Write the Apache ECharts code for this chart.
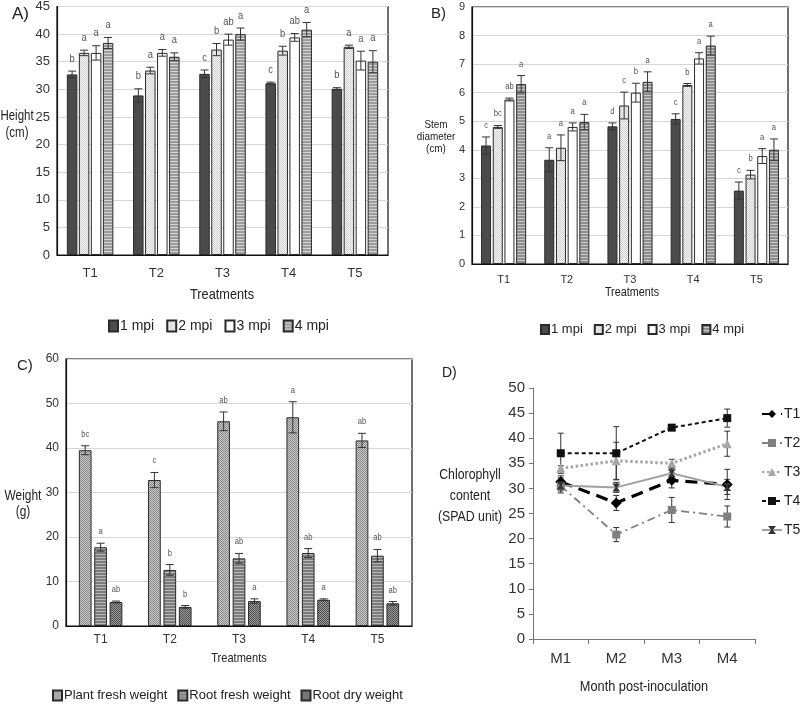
<!DOCTYPE html>
<html><head><meta charset="utf-8">
<script src="https://cdn.jsdelivr.net/npm/echarts@6/dist/echarts.min.js"></script>
<style>html,body{margin:0;padding:0;background:#fff}#c{width:800px;height:706px}</style>
</head><body><div id="c"></div>
<script>
// ---------- DATA ----------
const treatments = ['T1','T2','T3','T4','T5'];
const mpiNames = ['1 mpi','2 mpi','3 mpi','4 mpi'];

// Panel A: Height (cm)
const height1mpi = [32.7, 28.9, 32.8, 31.1, 30.1];
const height2mpi = [36.6, 33.4, 37.2, 37.0, 37.7];
const height3mpi = [36.6, 36.6, 39.0, 39.4, 35.2];
const height4mpi = [38.4, 35.9, 40.0, 40.8, 35.0];
const height1mpiErr = [0.6, 1.2, 0.7, 0.2, 0.2];
const height2mpiErr = [0.5, 0.6, 1.1, 0.8, 0.3];
const height3mpiErr = [1.3, 0.6, 1.0, 0.7, 1.7];
const height4mpiErr = [1.0, 0.7, 1.1, 1.3, 2.0];
const height1mpiLet = ['b','b','c','c','b'];
const height2mpiLet = ['a','a','b','b','a'];
const height3mpiLet = ['a','a','ab','ab','a'];
const height4mpiLet = ['a','a','a','a','a'];

// Panel B: Stem diameter (cm)
const stem1mpi = [4.15, 3.65, 4.82, 5.08, 2.57];
const stem2mpi = [4.80, 4.07, 5.55, 6.27, 3.13];
const stem3mpi = [5.76, 4.80, 6.00, 7.20, 3.78];
const stem4mpi = [6.30, 4.97, 6.38, 7.65, 4.00];
const stem1mpiErr = [0.30, 0.42, 0.12, 0.18, 0.30];
const stem2mpiErr = [0.05, 0.45, 0.47, 0.05, 0.15];
const stem3mpiErr = [0.05, 0.14, 0.33, 0.20, 0.26];
const stem4mpiErr = [0.30, 0.27, 0.35, 0.33, 0.38];
const stem1mpiLet = ['c','a','d','c','c'];
const stem2mpiLet = ['bc','a','c','b','b'];
const stem3mpiLet = ['ab','a','b','a','a'];
const stem4mpiLet = ['a','a','a','a','a'];

// Panel C: Weight (g)
const weightNames = ['Plant fresh weight','Root fresh weight','Root dry weight'];
const plantFresh = [39.5, 32.8, 46.0, 46.9, 41.7];
const rootFresh = [17.7, 12.6, 15.2, 16.4, 15.8];
const rootDry = [5.4, 4.3, 5.6, 5.9, 5.1];
const plantFreshErr = [1.0, 1.7, 2.1, 3.5, 1.6];
const rootFreshErr = [0.9, 1.2, 1.1, 1.0, 1.4];
const rootDryErr = [0.2, 0.3, 0.5, 0.2, 0.4];
const plantFreshLet = ['bc','c','ab','a','ab'];
const rootFreshLet = ['a','b','ab','ab','ab'];
const rootDryLet = ['ab','b','a','a','ab'];

// Panel D: Chlorophyll content (SPAD unit)
const months = ['M1','M2','M3','M4'];
const chlNames = ['T1','T2','T3','T4','T5'];
const chlT1 = [31.3, 27.1, 31.6, 30.8];
const chlT2 = [30.5, 20.8, 25.7, 24.4];
const chlT3 = [34.0, 35.5, 35.0, 38.9];
const chlT4 = [37.0, 37.0, 42.1, 44.0];
const chlT5 = [30.6, 30.2, 33.0, 30.3];
const chlT1Err = [1.2, 1.5, 1.5, 3.0];
const chlT2Err = [1.0, 1.4, 2.5, 2.1];
const chlT3Err = [0.5, 3.7, 0.8, 2.5];
const chlT4Err = [4.0, 5.3, 0.5, 1.8];
const chlT5Err = [1.5, 1.0, 1.0, 1.5];

// ---------- STYLE HELPERS ----------
const FONT = "'Liberation Sans',Arial,sans-serif";
function pat(w, h, draw) {
  const c = document.createElement('canvas'); c.width = w; c.height = h;
  const g = c.getContext('2d'); draw(g, w, h);
  return { image: c, repeat: 'repeat' };
}
function rows(colors) {
  return pat(4, colors.length, (g) => { colors.forEach((col, i) => { g.fillStyle = col; g.fillRect(0, i, 4, 1); }); });
}
function checker(a, b) {
  return pat(2, 2, (g) => { g.fillStyle = a; g.fillRect(0,0,2,2); g.fillStyle = b; g.fillRect(0,0,1,1); g.fillRect(1,1,1,1); });
}
const fill1 = '#4b4b4b';
const fill2 = checker('#f4f4f4', '#d2d2d2');
const fill3 = '#ffffff';
const fill4 = rows(['#9c9c9c', '#9c9c9c', '#d4d4d4']);
const fill4b = rows(['#8f8f8f', '#8f8f8f', '#c8c8c8']);
const fillPlant = checker('#c8c8c8', '#8a8a8a');
const fillRootF = rows(['#7c7c7c', '#7c7c7c', '#b8b8b8']);
const fillRootD = checker('#9a9a9a', '#505050');

function errSeries(gridIdx, vals, errs, letters, offset, capHalf, fontSize, z) {
  return {
    type: 'custom', xAxisIndex: gridIdx, yAxisIndex: gridIdx, z: z || 5, silent: true,
    data: vals.map((v, i) => [i, v, errs[i]]),
    encode: { x: 0, y: 1 },
    renderItem: function (params, api) {
      const x = api.coord([api.value(0), 0])[0] + offset;
      const m = api.value(1), e = api.value(2);
      const yT = api.coord([0, m + e])[1];
      const yB = api.coord([0, m - e])[1];
      const st = { stroke: '#333', lineWidth: 1 };
      const ch = [
        { type: 'line', shape: { x1: x, y1: yT, x2: x, y2: yB }, style: st },
        { type: 'line', shape: { x1: x - capHalf, y1: yT, x2: x + capHalf, y2: yT }, style: st },
        { type: 'line', shape: { x1: x - capHalf, y1: yB, x2: x + capHalf, y2: yB }, style: st }
      ];
      if (letters) {
        ch.push({ type: 'text', x: x, y: yT - 7, scaleX: 0.85, style: { text: letters[params.dataIndex], fill: '#555', font: fontSize + 'px ' + FONT, align: 'center', verticalAlign: 'bottom' } });
      }
      return { type: 'group', children: ch };
    }
  };
}
function barSeries(name, gridIdx, data, color, bw, gap) {
  return { name: name, type: 'bar', xAxisIndex: gridIdx, yAxisIndex: gridIdx, data: data,
    barWidth: bw, barGap: gap, itemStyle: { color: color, borderColor: '#2a2a2a', borderWidth: 1 }, z: 3 };
}
const axisTxt = { color: '#333', fontFamily: FONT };

// ---------- LAYOUT ----------
const grids = [
  { left: 57, top: 6, width: 331, height: 249 },
  { left: 472, top: 7, width: 316, height: 257 },
  { left: 66, top: 359, width: 346, height: 267 },
  { left: 533, top: 388, width: 222, height: 251 }
];
grids.forEach((g, i) => { if (i < 3) { g.show = true; g.borderColor = '#111'; g.borderWidth = 1.2; } });

function catAxis(i, data, fs, labelMargin) {
  return { type: 'category', gridIndex: i, data: data, axisTick: { show: false },
    axisLine: { lineStyle: { color: '#111', width: 1.2 } },
    axisLabel: Object.assign({ fontSize: fs, margin: labelMargin }, axisTxt) };
}
function valAxis(i, max, interval, fs) {
  return { type: 'value', gridIndex: i, min: 0, max: max, interval: interval,
    axisLine: { show: true, lineStyle: { color: '#111', width: 1.2 } }, axisTick: { show: false },
    splitLine: { lineStyle: { color: '#d6d6d6' } },
    axisLabel: Object.assign({ fontSize: fs, margin: 7 }, axisTxt) };
}

const bwA = 10.5, gA = 1.5;
const offA = k => (k - 1.5) * (bwA + gA);
const bwB = 10, gB = 1.7;
const offB = k => (k - 1.5) * (bwB + gB);
const bwC = 12.7, gC = 2.7;
const offC = k => (k - 1) * (bwC + gC);

const series = [
  barSeries('1 mpi', 0, height1mpi, fill1, bwA, (gA / bwA * 100) + '%'),
  barSeries('2 mpi', 0, height2mpi, fill2, bwA, (gA / bwA * 100) + '%'),
  barSeries('3 mpi', 0, height3mpi, fill3, bwA, (gA / bwA * 100) + '%'),
  barSeries('4 mpi', 0, height4mpi, fill4, bwA, (gA / bwA * 100) + '%'),
  errSeries(0, height1mpi, height1mpiErr, height1mpiLet, offA(0), 4, 11),
  errSeries(0, height2mpi, height2mpiErr, height2mpiLet, offA(1), 4, 11),
  errSeries(0, height3mpi, height3mpiErr, height3mpiLet, offA(2), 4, 11),
  errSeries(0, height4mpi, height4mpiErr, height4mpiLet, offA(3), 4, 11),

  barSeries('1 mpi ', 1, stem1mpi, fill1, bwB, (gB / bwB * 100) + '%'),
  barSeries('2 mpi ', 1, stem2mpi, fill2, bwB, (gB / bwB * 100) + '%'),
  barSeries('3 mpi ', 1, stem3mpi, fill3, bwB, (gB / bwB * 100) + '%'),
  barSeries('4 mpi ', 1, stem4mpi, fill4b, bwB, (gB / bwB * 100) + '%'),
  errSeries(1, stem1mpi, stem1mpiErr, stem1mpiLet, offB(0), 4, 9),
  errSeries(1, stem2mpi, stem2mpiErr, stem2mpiLet, offB(1), 4, 9),
  errSeries(1, stem3mpi, stem3mpiErr, stem3mpiLet, offB(2), 4, 9),
  errSeries(1, stem4mpi, stem4mpiErr, stem4mpiLet, offB(3), 4, 9),

  barSeries('Plant fresh weight', 2, plantFresh, fillPlant, bwC, (gC / bwC * 100) + '%'),
  barSeries('Root fresh weight', 2, rootFresh, fillRootF, bwC, (gC / bwC * 100) + '%'),
  barSeries('Root dry weight', 2, rootDry, fillRootD, bwC, (gC / bwC * 100) + '%'),
  errSeries(2, plantFresh, plantFreshErr, plantFreshLet, offC(0), 4, 9),
  errSeries(2, rootFresh, rootFreshErr, rootFreshLet, offC(1), 4, 9),
  errSeries(2, rootDry, rootDryErr, rootDryLet, offC(2), 4, 9)
];

const chlStyles = [
  { data: chlT1, err: chlT1Err, color: '#000', type: [12, 7], width: 3.2, symbol: 'diamond', size: 11 },
  { data: chlT2, err: chlT2Err, color: '#808080', type: [8, 4, 2, 4], width: 1.8, symbol: 'rect', size: 8 },
  { data: chlT3, err: chlT3Err, color: '#a6a6a6', type: [2.5, 2.5], width: 3, symbol: 'triangle', size: 9 },
  { data: chlT4, err: chlT4Err, color: '#111', type: [4, 3], width: 2, symbol: 'rect', size: 8 },
  { data: chlT5, err: chlT5Err, color: '#a0a0a0', type: 'solid', width: 2, symbol: 'path://M0,0 L10,0 L6,5 L10,10 L0,10 L4,5 Z', size: 8 }
];
chlStyles.forEach((s, i) => {
  series.push({ name: chlNames[i], type: 'line', xAxisIndex: 3, yAxisIndex: 3, data: s.data,
    symbol: s.symbol, symbolSize: s.size, z: 6,
    lineStyle: { color: s.color, type: s.type, width: s.width },
    itemStyle: { color: i === 4 ? '#333' : s.color, borderWidth: 0 } });
  series.push(errSeries(3, s.data, s.err, null, 0, 3, 8, 4));
});

const option = {
  animation: false,
  backgroundColor: '#fff',
  textStyle: { fontFamily: FONT },
  grid: grids,
  xAxis: [
    catAxis(0, treatments, 13, 12),
    catAxis(1, treatments, 11, 10),
    catAxis(2, treatments, 12, 8),
    { type: 'category', gridIndex: 3, data: months, boundaryGap: true,
      axisLine: { lineStyle: { color: '#777' } }, axisTick: { show: true, length: 5, lineStyle: { color: '#777' } },
      axisLabel: Object.assign({ fontSize: 15, margin: 12 }, axisTxt) }
  ],
  yAxis: [
    valAxis(0, 45, 5, 13),
    valAxis(1, 9, 1, 11),
    valAxis(2, 60, 10, 12),
    { type: 'value', gridIndex: 3, min: 0, max: 50, interval: 5,
      axisLine: { show: true, lineStyle: { color: '#777' } }, axisTick: { show: true, length: 4, lineStyle: { color: '#777' } },
      splitLine: { show: false }, axisLabel: Object.assign({ fontSize: 15, margin: 8 }, axisTxt) }
  ],
  legend: [
    { data: mpiNames, left: 108, top: 319, padding: 0, icon: 'rect', itemWidth: 9, itemHeight: 11, itemGap: 12,
      textStyle: { fontSize: 14, color: '#222', fontFamily: FONT, padding: [0, 0, 0, -3] } },
    { data: ['1 mpi ','2 mpi ','3 mpi ','4 mpi '], left: 540, top: 323, padding: 0, icon: 'rect', itemWidth: 8, itemHeight: 9, itemGap: 11,
      formatter: n => n.trim(),
      textStyle: { fontSize: 13, color: '#222', fontFamily: FONT, padding: [0, 0, 0, -3] } },
    { data: weightNames, left: 52, top: 689, padding: 0, icon: 'rect', itemWidth: 9, itemHeight: 10, itemGap: 10,
      textStyle: { fontSize: 13, color: '#222', fontFamily: FONT, padding: [0, 0, 0, -3] } },
    { data: chlNames, orient: 'vertical', left: 761, top: 407, padding: 0, itemWidth: 20, itemHeight: 10, itemGap: 15,
      textStyle: { fontSize: 14, color: '#222', fontFamily: FONT, padding: [0, 0, 0, -3] } }
  ],
  graphic: [
    { type: 'text', left: 12, top: 6, style: { text: 'A)', font: '17px ' + FONT, fill: '#222' } },
    { type: 'text', x: 17, y: 125, scaleX: 0.82, style: { text: 'Height\n(cm)', font: '14px ' + FONT, fill: '#222', align: 'center', verticalAlign: 'middle', lineHeight: 17 } },
    { type: 'text', x: 222, y: 295, scaleX: 0.85, style: { text: 'Treatments', font: '15px ' + FONT, fill: '#222', align: 'center', verticalAlign: 'middle' } },

    { type: 'text', left: 431, top: 6, style: { text: 'B)', font: '15px ' + FONT, fill: '#222' } },
    { type: 'text', x: 436, y: 137, scaleX: 0.9, style: { text: 'Stem\ndiameter\n(cm)', font: '11px ' + FONT, fill: '#222', align: 'center', verticalAlign: 'middle', lineHeight: 12 } },
    { type: 'text', x: 632, y: 293, scaleX: 0.9, style: { text: 'Treatments', font: '12px ' + FONT, fill: '#222', align: 'center', verticalAlign: 'middle' } },

    { type: 'text', left: 17, top: 358, style: { text: 'C)', font: '15px ' + FONT, fill: '#222' } },
    { type: 'text', x: 23, y: 504, scaleX: 0.85, style: { text: 'Weight\n(g)', font: '14px ' + FONT, fill: '#222', align: 'center', verticalAlign: 'middle', lineHeight: 16 } },
    { type: 'text', x: 239, y: 658, scaleX: 0.85, style: { text: 'Treatments', font: '13px ' + FONT, fill: '#222', align: 'center', verticalAlign: 'middle' } },

    { type: 'text', left: 442, top: 366, style: { text: 'D)', font: '14px ' + FONT, fill: '#222' } },
    { type: 'text', x: 470, y: 496, scaleX: 0.82, style: { text: 'Chlorophyll\ncontent\n(SPAD unit)', font: '15px ' + FONT, fill: '#222', align: 'center', verticalAlign: 'middle', lineHeight: 21 } },
    { type: 'text', x: 644, y: 687, scaleX: 0.85, style: { text: 'Month post-inoculation', font: '15px ' + FONT, fill: '#222', align: 'center', verticalAlign: 'middle' } }
  ],
  series: series
};
const chart = echarts.init(document.getElementById('c'), null, { renderer: 'canvas' });
chart.setOption(option);
</script></body></html>
